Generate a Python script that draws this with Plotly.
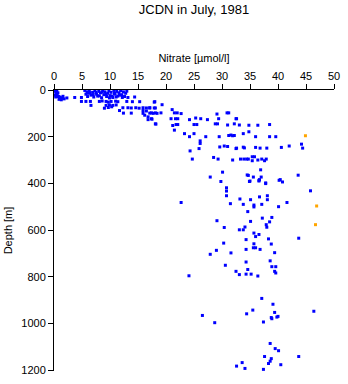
import plotly.graph_objects as go

# ---- Data (nitrate in µmol/l, depth in m) ----
blue_nitrate = [
    0.2, 0.3, 0.4, 0.5, 0.6, 0.8, 1.0, 1.2, 1.5, 1.8, 2.3, 0.3, 0.9, 1.3, 0.2, 1.6, 0.5, 0.7,
    5.5, 5.9, 6.1, 6.3, 6.6, 6.9, 7.1, 7.3, 7.6, 7.8, 8.0, 8.3, 8.5, 8.7, 8.9, 9.1, 9.4, 9.6, 9.8,
    10.0, 10.2, 10.5, 10.7, 10.9, 11.2, 11.4, 11.6, 11.9, 12.1, 12.4, 12.6, 12.8, 6.0, 7.0, 8.1,
    9.3, 10.4, 11.1, 12.2, 5.7, 8.6, 9.9, 10.8, 11.7, 7.5, 6.4, 13.2, 14.4, 13.0,
    3.7, 4.9, 4.9, 5.7, 6.5, 8.1, 8.6, 9.3, 9.7, 10.2, 11.0, 11.4, 13.0, 14.0, 15.3, 18.0, 6.6,
    9.3, 9.9, 10.5, 11.1,
    9.0, 9.7, 10.3, 12.3, 13.2, 13.8, 14.6, 15.2, 15.9, 16.5, 17.1, 18.1,
    11.7, 15.9, 16.5,
    12.4, 13.8, 15.9, 17.1, 17.7, 18.4,
    16.2, 16.8, 16.8, 17.5, 18.2,
    17.9, 19.3, 17.1, 17.9, 17.4, 18.1, 19.1, 21.1, 21.5, 22.0, 22.7, 17.4, 20.9, 21.7, 22.1,
    24.2, 25.3, 26.2, 27.4, 18.1, 21.2, 21.8, 22.1, 25.0, 25.5, 21.5, 23.3, 24.2, 25.0, 26.1,
    26.1, 25.9, 24.3, 27.1, 29.1, 29.4, 30.9, 31.2, 28.8, 29.2, 31.0, 32.2, 32.5, 33.1, 29.5,
    31.2, 31.6, 31.9, 32.2, 33.8, 29.6, 30.4, 31.0, 32.5, 33.8, 34.0, 28.5, 29.3, 31.9, 33.3,
    33.9, 24.7, 30.1, 27.9, 29.8,
    32.6, 34.8, 36.4, 38.5, 34.8, 36.0, 38.5, 39.6, 32.6, 36.0, 36.8, 38.0, 40.6, 42.0, 44.2,
    44.4, 34.4, 34.7, 35.4, 35.8, 35.4, 36.4, 37.1, 37.9, 37.6, 36.9, 34.5, 34.7, 35.6, 37.0,
    36.7, 35.0, 36.6, 40.4, 40.8, 37.8, 43.6,
    30.8, 30.8, 30.8, 22.7, 31.5, 33.8, 33.2, 29.1, 30.4, 33.1, 33.8, 34.1, 34.3, 30.3, 29.0,
    27.9, 31.6, 34.3, 34.3, 30.6, 32.5, 33.1, 24.1,
    34.9, 36.6, 37.8, 40.2, 45.8, 35.1, 36.7, 38.1, 38.1, 35.7, 35.7, 37.1, 40.1, 41.6, 34.6,
    37.2, 38.9, 35.1, 38.5, 37.9, 38.0, 35.7, 36.0, 36.6, 38.3, 35.7, 38.8, 43.7, 35.6, 36.0,
    36.8, 39.4, 38.6, 38.9, 39.6, 39.4, 39.6, 34.6, 34.3, 35.2, 36.4,
    37.1, 39.1, 39.4, 35.5, 34.4, 38.8, 38.9, 39.8, 40.0, 37.4, 46.4, 38.6, 39.5, 40.1, 37.6,
    38.8, 38.6, 38.3, 40.5, 43.7, 33.6, 32.6, 34.1, 37.4,
    26.5, 28.7,
]
blue_depth = [
    2, 8, 15, 20, 25, 28, 30, 33, 36, 38, 34, 30, 40, 42, 22, 27, 5, 12,
    2, 8, 14, 4, 22, 10, 30, 3, 18, 26, 6, 12, 33, 2, 20, 8, 28, 14, 4,
    24, 10, 32, 2, 18, 6, 26, 12, 3, 20, 8, 28, 14, 28, 20, 25,
    18, 26, 30, 32, 18, 9, 34, 15, 22, 10, 12, 32, 30, 5,
    32, 32, 49, 49, 49, 49, 47, 49, 52, 49, 48, 50, 49, 50, 50, 50, 66,
    66, 64, 66, 64,
    78, 75, 72, 76, 76, 77, 76, 78, 76, 77, 76, 77,
    88, 88, 90,
    99, 99, 100, 99, 100, 100,
    108, 115, 127, 125, 146,
    52, 63, 77, 77, 98, 98, 98, 84, 98, 98, 101, 123, 123, 123, 123,
    127, 120, 123, 127, 145, 152, 148, 148, 148, 148, 172, 187, 200, 187, 218,
    229, 251, 261, 200, 103, 123, 98, 98, 145, 145, 150, 145, 123, 150, 200,
    195, 193, 196, 195, 187, 244, 240, 242, 251, 245, 248, 289, 296, 300, 296,
    296, 296, 352, 373, 392,
    123, 151, 151, 148, 179, 200, 200, 200, 249, 246, 249, 249, 246, 240, 232,
    249, 296, 296, 286, 286, 303, 300, 296, 296, 303, 342, 364, 366, 373, 373,
    384, 390, 390, 384, 394, 398, 365,
    419, 433, 453, 482, 487, 490, 467, 560, 589, 599, 599, 587, 641, 656, 687,
    704, 698, 683, 737, 751, 777, 791, 796,
    392, 387, 401, 387, 432, 470, 458, 453, 470, 493, 501, 490, 500, 482, 521,
    549, 546, 563, 565, 577, 588, 613, 628, 619, 638, 659, 660, 635, 676, 676,
    683, 697, 732, 757, 757, 777, 784, 769, 789, 789, 797,
    893, 918, 953, 943, 959, 975, 980, 973, 970, 994, 948, 1086, 1108, 1117, 1142,
    1151, 1162, 1172, 1177, 1142, 1168, 1183, 1193, 1197,
    966, 997,
]
orange_nitrate = [44.9, 46.9, 46.7]
orange_depth = [196, 497, 577]

x_ticks = [0, 5, 10, 15, 20, 25, 30, 35, 40, 45, 50]
y_ticks = [0, 200, 400, 600, 800, 1000, 1200]

FONT = "Liberation Sans, Arial, sans-serif"

fig = go.Figure()
fig.add_trace(go.Scatter(
    x=blue_nitrate, y=blue_depth, mode="markers",
    marker=dict(symbol="square", size=3, color="#0000ff", line=dict(width=0)),
    showlegend=False, hoverinfo="x+y",
))
fig.add_trace(go.Scatter(
    x=orange_nitrate, y=orange_depth, mode="markers",
    marker=dict(symbol="square", size=3, color="#ffa500", line=dict(width=0)),
    showlegend=False, hoverinfo="x+y",
))

fig.update_layout(
    width=348, height=384,
    margin=dict(l=54, r=8, t=90, b=9),
    paper_bgcolor="white", plot_bgcolor="white",
    font=dict(family=FONT, size=11, color="black"),
    title=dict(text="JCDN in July, 1981", x=0.5, xref="paper",
               y=1 - 9 / 384, yref="container", yanchor="middle",
               font=dict(family=FONT, size=13, color="black")),
)
fig.update_xaxes(
    side="top", range=[0, 50], tickvals=x_ticks,
    showgrid=False, zeroline=False,
    showline=True, linecolor="black", linewidth=1,
    ticks="outside", ticklen=5, tickcolor="black",
    tickfont=dict(size=11),
    title=dict(text="Nitrate [µmol/l]", font=dict(size=11), standoff=4),
)
fig.update_yaxes(
    range=[1204, 0], tickvals=y_ticks,
    showgrid=False, zeroline=False,
    showline=True, linecolor="black", linewidth=1,
    ticks="outside", ticklen=5, tickcolor="black",
    tickfont=dict(size=11),
    title=dict(text="Depth [m]", font=dict(size=11), standoff=6),
)

fig.write_html("out.html")
